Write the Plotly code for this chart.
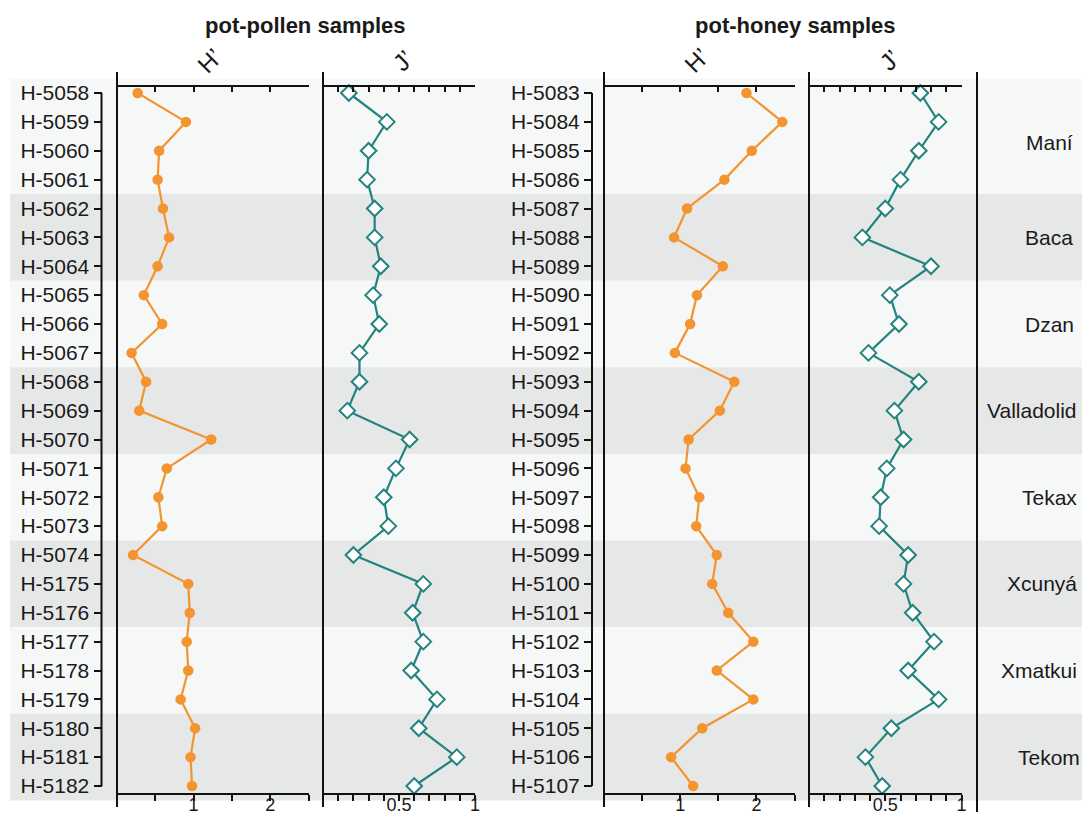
import plotly.graph_objects as go

# ---------------- data ----------------
pollen_samples = ["H-5058", "H-5059", "H-5060", "H-5061", "H-5062", "H-5063", "H-5064",
                  "H-5065", "H-5066", "H-5067", "H-5068", "H-5069", "H-5070", "H-5071",
                  "H-5072", "H-5073", "H-5074", "H-5175", "H-5176", "H-5177", "H-5178",
                  "H-5179", "H-5180", "H-5181", "H-5182"]
pollen_H = [0.27, 0.90, 0.55, 0.53, 0.60, 0.68, 0.53, 0.35, 0.59, 0.19, 0.38, 0.29, 1.23,
            0.65, 0.54, 0.59, 0.21, 0.93, 0.95, 0.91, 0.93, 0.83, 1.02, 0.96, 0.98]
pollen_J = [0.17, 0.42, 0.30, 0.29, 0.34, 0.34, 0.38, 0.33, 0.37, 0.24, 0.24, 0.16, 0.57,
            0.48, 0.40, 0.43, 0.20, 0.66, 0.59, 0.66, 0.58, 0.75, 0.63, 0.88, 0.60]

honey_samples = ["H-5083", "H-5084", "H-5085", "H-5086", "H-5087", "H-5088", "H-5089",
                 "H-5090", "H-5091", "H-5092", "H-5093", "H-5094", "H-5095", "H-5096",
                 "H-5097", "H-5098", "H-5099", "H-5100", "H-5101", "H-5102", "H-5103",
                 "H-5104", "H-5105", "H-5106", "H-5107"]
honey_H = [1.87, 2.34, 1.94, 1.58, 1.09, 0.92, 1.56, 1.22, 1.13, 0.93, 1.71, 1.52, 1.11,
           1.07, 1.25, 1.21, 1.48, 1.42, 1.63, 1.96, 1.48, 1.96, 1.29, 0.88, 1.17]
honey_J = [0.73, 0.85, 0.72, 0.60, 0.50, 0.35, 0.80, 0.53, 0.59, 0.39, 0.72, 0.56, 0.62,
           0.51, 0.47, 0.46, 0.65, 0.62, 0.68, 0.82, 0.65, 0.85, 0.54, 0.37, 0.48]

groups = ["Maní", "Baca", "Dzan", "Valladolid", "Tekax", "Xcunyá", "Xmatkui", "Tekom"]
group_sizes = [4, 3, 3, 3, 3, 3, 3, 3]

H_ticks = [0, 0.5, 1, 1.5, 2, 2.5]
H_ticklabels = ["", "", "1", "", "2", ""]
J_ticks = [0, 0.1, 0.2, 0.3, 0.4, 0.5, 0.6, 0.7, 0.8, 0.9, 1.0]
J_ticklabels = ["", "", "", "", "", "0.5", "", "", "", "", "1"]

panel_titles = ["pot-pollen samples", "pot-honey samples"]
index_names = ["H’", "J’"]

# ---------------- styling / layout helpers ----------------
OFF = 8                          # default page body margin
W, Hh = 1090 - 2 * OFF, 826 - 2 * OFF   # keep the page free of scrollbars
def px(x):                       # screen pixel x -> paper fraction
    return (x - OFF) / W
def py(y):                       # screen pixel y -> paper fraction
    return 1 - (y - OFF) / Hh

ORANGE = "#f39430"
TEAL = "#23837f"
LIGHT = "#f6f7f7"
GRAY = "#e6e7e7"
INK = "#1a1a1a"
FONT = "Liberation Sans, Arial, sans-serif"

ROW0, ROWSTEP = 93.0 - OFF, 28.875     # figure pixel of first row, pixel step per row
nrows = len(pollen_samples)
yrange = [(Hh - ROW0) / ROWSTEP, -ROW0 / ROWSTEP]

AX_TOP, AX_BOT = 86, 794
panels = [  # screen px extents for H' and J' of each sample type
    ((117, 308.5), (323, 475)),
    ((604, 794.5), (809, 961.5)),
]

fig = go.Figure()

series = [(pollen_samples, pollen_H, pollen_J, "y"), (honey_samples, honey_H, honey_J, "y2")]
axis_ids = [("x", "x2"), ("x3", "x4")]
for (samples, hv, jv, yax), (xh, xj) in zip(series, axis_ids):
    fig.add_trace(go.Scatter(x=hv, y=samples, xaxis=xh, yaxis=yax, mode="lines+markers",
                             line=dict(color=ORANGE, width=2.2),
                             marker=dict(symbol="circle", size=10.5, color=ORANGE),
                             showlegend=False, cliponaxis=False))
    fig.add_trace(go.Scatter(x=jv, y=samples, xaxis=xj, yaxis=yax, mode="lines+markers",
                             line=dict(color=TEAL, width=2.2),
                             marker=dict(symbol="diamond", size=12, color="white",
                                         line=dict(color=TEAL, width=2)),
                             showlegend=False, cliponaxis=False))

# invisible traces to anchor the top (mirrored) axes
top_ids = ["x5", "x6", "x7", "x8"]
for tid, (samples, vals, yax) in zip(top_ids, [(pollen_samples, pollen_H, "y"),
                                               (pollen_samples, pollen_J, "y"),
                                               (honey_samples, honey_H, "y2"),
                                               (honey_samples, honey_J, "y2")]):
    fig.add_trace(go.Scatter(x=vals, y=samples, xaxis=tid, yaxis=yax, mode="markers",
                             marker=dict(opacity=0), hoverinfo="skip", showlegend=False))

layout = dict(
    width=W, height=Hh, margin=dict(l=0, r=0, t=0, b=0, autoexpand=False),
    paper_bgcolor="white", plot_bgcolor="rgba(0,0,0,0)",
    font=dict(family=FONT, size=21, color=INK),
    showlegend=False,
)

def xaxis_common(dom, rng, tv, tt, side, pos, ticks, ticklen, showlabels):
    d = dict(domain=[px(dom[0]), px(dom[1])], range=rng, anchor="free", position=py(pos),
             side=side, ticks=ticks, ticklen=ticklen, tickwidth=2, tickcolor="#111",
             tickvals=tv, ticktext=tt, showticklabels=showlabels, automargin=False,
             showline=True, linewidth=2, linecolor="#111",
             showgrid=False, zeroline=False, fixedrange=True,
             tickfont=dict(size=18, color=INK, family=FONT))
    if showlabels:
        d["ticklabelstandoff"] = -12
    return d

bottom_ids = ["x", "x2", "x3", "x4"]
all_doms = [panels[0][0], panels[0][1], panels[1][0], panels[1][1]]
kinds = ["H", "J", "H", "J"]
for bid, tid, dom, k in zip(bottom_ids, top_ids, all_doms, kinds):
    rng = [0, 2.5] if k == "H" else [0, 1]
    tv = H_ticks if k == "H" else J_ticks
    tt = H_ticklabels if k == "H" else J_ticklabels
    bname = "xaxis" if bid == "x" else "xaxis" + bid[1:]
    tname = "xaxis" + tid[1:]
    layout[bname] = xaxis_common(dom, rng, tv, tt, "bottom", AX_BOT, "outside", 6, True)
    layout[tname] = xaxis_common(dom, rng, tv, tt, "top", AX_TOP, "inside", 5, False)

def yaxis_common(cats, pos):
    return dict(domain=[0, 1], type="category", categoryorder="array", categoryarray=cats,
                range=yrange, anchor="free", position=px(pos), side="left",
                ticks="outside", ticklen=8, tickwidth=2, tickcolor="#111", automargin=False,
                showline=False, showgrid=False, zeroline=False, fixedrange=True,
                tickfont=dict(size=21, color=INK, family=FONT))

layout["yaxis"] = yaxis_common(pollen_samples, 101.5)
layout["yaxis2"] = yaxis_common(honey_samples, 592)
fig.update_layout(**layout)

shapes = []
start = 0
group_centers = []
for gi, n in enumerate(group_sizes):
    shapes.append(dict(type="rect", xref="paper", yref="y", x0=px(10), x1=1,
                       y0=start - 0.5, y1=start + n - 0.5,
                       fillcolor=LIGHT if gi % 2 == 0 else GRAY,
                       line=dict(width=0), layer="below"))
    group_centers.append(start + (n - 1) / 2 + (0.2 if n == 4 else 0))
    start += n

for yref, pos in [("y", 101.5), ("y2", 592)]:
    shapes.append(dict(type="line", xref="paper", yref=yref, x0=px(pos), x1=px(pos),
                       y0=0, y1=nrows - 1, line=dict(color="#111", width=2)))

for xp in [117, 323, 604, 809]:
    shapes.append(dict(type="line", xref="paper", yref="paper", x0=px(xp), x1=px(xp),
                       y0=py(72), y1=py(807), line=dict(color="#111", width=2)))
shapes.append(dict(type="line", xref="paper", yref="paper", x0=px(977), x1=px(977),
                   y0=py(72), y1=py(812), line=dict(color="#111", width=2)))
fig.update_layout(shapes=shapes)

annotations = []
for title, cx in zip(panel_titles, [305, 795]):
    annotations.append(dict(text="<b>%s</b>" % title, xref="paper", yref="paper",
                            x=px(cx), y=py(25), showarrow=False, xanchor="center",
                            yanchor="middle", font=dict(size=22, color=INK, family=FONT)))
for hdom, jdom in panels:
    for name, dom, dx in zip(index_names, [hdom, jdom], [-3, 4]):
        annotations.append(dict(text=name, xref="paper", yref="paper",
                                x=px((dom[0] + dom[1]) / 2 + dx), y=py(60), showarrow=False,
                                textangle=-45, xanchor="center", yanchor="middle",
                                font=dict(size=24, color=INK, family=FONT)))
for g, c in zip(groups, group_centers):
    if len(g) >= 6:
        annotations.append(dict(text=g, xref="paper", yref="y", x=px(1079), y=c,
                                xanchor="right", yanchor="middle", showarrow=False,
                                font=dict(size=21, color=INK, family=FONT)))
    else:
        annotations.append(dict(text=g, xref="paper", yref="y", x=px(1049), y=c,
                                xanchor="center", yanchor="middle", showarrow=False,
                                font=dict(size=21, color=INK, family=FONT)))
fig.update_layout(annotations=annotations)

fig.write_html("out.html")
